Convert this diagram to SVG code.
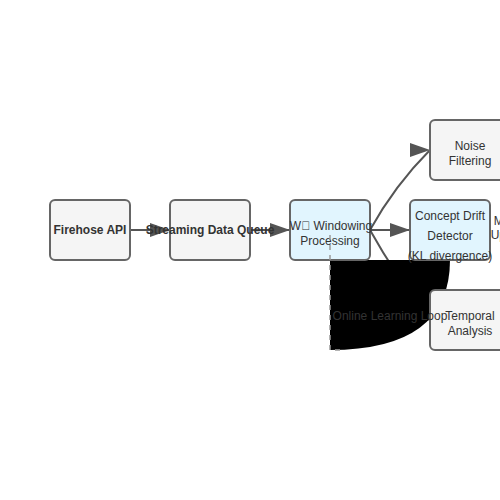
<svg xmlns="http://www.w3.org/2000/svg" width="500" height="500" viewBox="0 0 500 500">
<style>
.box{stroke:#666;stroke-width:2}
.grey{fill:#f5f5f5}
.blue{fill:#e1f5fe}
text{font-family:"Liberation Sans",Arial,sans-serif;font-size:12px;fill:#333;text-anchor:middle}
.b{font-weight:bold}
.conn{fill:none;stroke:#555;stroke-width:2}
</style>
<defs>
<marker id="arrow" markerWidth="10" markerHeight="7" refX="10" refY="3.5" markerUnits="strokeWidth" viewBox="0 0 10 7">
<polygon points="0 0, 10 3.5, 0 7" fill="#555"/>
</marker>
</defs>
<rect width="500" height="500" fill="#fff"/>
<g id="connectors">
<path class="conn" d="M130,230 L170,230" marker-end="url(#arrow)"/>
<path class="conn" d="M250,230 L290,230" marker-end="url(#arrow)"/>
<path class="conn" d="M370,230 L410,230" marker-end="url(#arrow)"/>
<path class="conn" d="M370,230 Q395,185 430,150" marker-end="url(#arrow)"/>
<path class="conn" d="M370,230 Q395,275 430,320" marker-end="url(#arrow)"/>
</g>
<g id="loop-shape">
<path d="M450,260 Q450,350 330,350 L330,260 Z" fill="#000"/>
</g>
<g id="firehose">
<rect class="box grey" x="50" y="200" width="80" height="60" rx="5"/>
<text class="b" x="90" y="234">Firehose API</text>
</g>
<g id="queue">
<rect class="box grey" x="170" y="200" width="80" height="60" rx="5"/>
<text class="b" x="210" y="234">Streaming Data Queue</text>
</g>
<g id="windowing">
<rect class="box blue" x="290" y="200" width="80" height="60" rx="5"/>
<text x="331" y="230">W&#xE000; Windowing</text>
<text x="330" y="245">Processing</text>
</g>
<path d="M330,235 L330,350 L342,350" fill="none" stroke="#999" stroke-width="1.5" stroke-dasharray="5,5"/>
<g id="noise">
<rect class="box grey" x="430" y="120" width="80" height="60" rx="5"/>
<text x="470" y="150">Noise</text>
<text x="470" y="165">Filtering</text>
</g>
<g id="detector">
<rect class="box blue" x="410" y="200" width="80" height="60" rx="5"/>
<text x="450" y="220">Concept Drift</text>
<text x="450" y="240">Detector</text>
<text x="450" y="260">(KL divergence)</text>
</g>
<g id="update">
<text x="510" y="225">Model</text>
<text x="510" y="239">Update</text>
</g>
<g id="temporal">
<rect class="box grey" x="430" y="290" width="80" height="60" rx="5"/>
<text x="470" y="320">Temporal</text>
<text x="470" y="335">Analysis</text>
</g>
<g id="loop">
<text x="390" y="320">Online Learning Loop</text>
</g>
</svg>
